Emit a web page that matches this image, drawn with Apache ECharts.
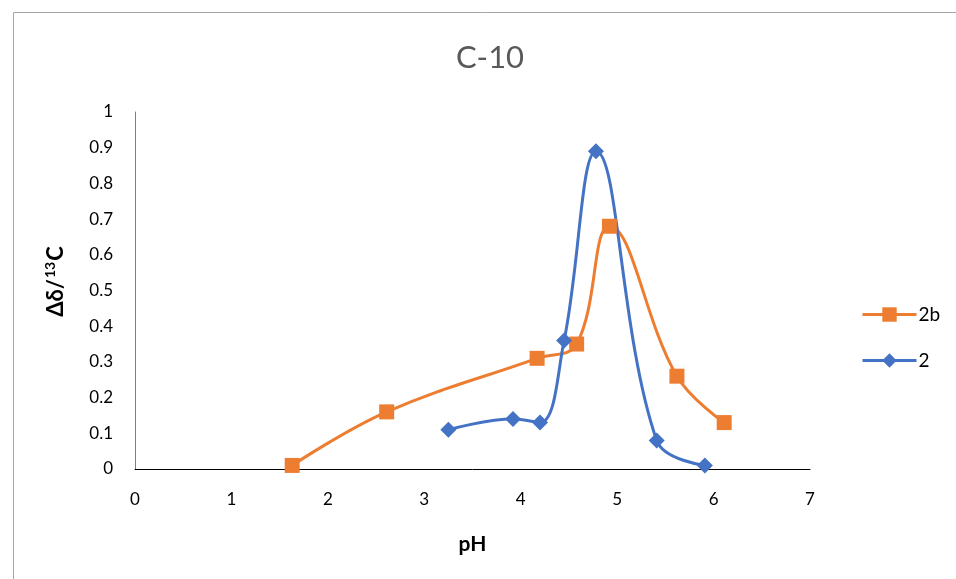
<!DOCTYPE html>
<html>
<head>
<meta charset="utf-8">
<script src="https://cdn.jsdelivr.net/npm/echarts@6/dist/echarts.min.js"></script>
<style>
  html, body { margin: 0; padding: 0; background: #fff; }
  #chart { width: 956px; height: 579px; }
</style>
</head>
<body>
<div id="chart"></div>
<script>
// pH vs chemical shift change for C-10
const pH_2b = [1.63, 2.61, 4.17, 4.58, 4.92, 5.62, 6.11];
const shift_2b = [0.01, 0.16, 0.31, 0.35, 0.68, 0.26, 0.13];
const pH_2 = [3.25, 3.92, 4.20, 4.45, 4.78, 5.41, 5.91];
const shift_2 = [0.11, 0.14, 0.13, 0.36, 0.89, 0.08, 0.01];
const xTicks = [0, 1, 2, 3, 4, 5, 6, 7];
const yTicks = [0, 0.1, 0.2, 0.3, 0.4, 0.5, 0.6, 0.7, 0.8, 0.9, 1];

const pairs = (xs, ys) => xs.map((x, i) => [x, ys[i]]);
const font = 'Lato, "Open Sans", "Noto Sans", sans-serif';

const chart = echarts.init(document.getElementById('chart'), null, { renderer: 'canvas' });
chart.setOption({
  animation: false,
  backgroundColor: '#fff',
  graphic: [{
    type: 'rect',
    shape: { x: 13.5, y: 12.5, width: 960, height: 600 },
    style: { fill: 'none', stroke: '#a6a6a6', lineWidth: 1 },
    silent: true
  }],
  title: {
    text: 'C-10',
    left: 485, top: 37,
    textAlign: 'center',
    textStyle: { color: '#595959', fontSize: 31, fontWeight: 'normal', fontFamily: font }
  },
  grid: { left: 135, right: 146, top: 112, bottom: 110, containLabel: false },
  legend: {
    orient: 'vertical',
    left: 856, top: 300,
    itemWidth: 54, itemHeight: 18, itemGap: 27,
    lineStyle: { width: 3 },
    textStyle: { fontSize: 19, color: '#000', fontFamily: font, padding: [0, 0, 0, -3] },
    data: ['2b', '2']
  },
  xAxis: {
    type: 'value',
    min: xTicks[0], max: xTicks[xTicks.length - 1], interval: 1,
    name: 'pH', nameLocation: 'middle', nameGap: 65,
    nameTextStyle: { fontSize: 21, fontWeight: 'bold', color: '#000', fontFamily: font },
    axisLine: { show: true, onZero: false, lineStyle: { color: '#000', width: 1 } },
    axisTick: { show: false },
    splitLine: { show: false },
    axisLabel: { fontSize: 17, color: '#000', margin: 22, fontFamily: font }
  },
  yAxis: {
    type: 'value',
    min: yTicks[0], max: yTicks[yTicks.length - 1], interval: 0.1,
    name: 'Δδ/{s|13}C', nameLocation: 'middle', nameGap: 66, nameRotate: 90,
    nameTextStyle: {
      fontSize: 22, fontWeight: 'bold', color: '#000', fontFamily: font,
      lineHeight: 26,
      padding: [0, 0, 0, 18],
      rich: {
        s: { fontSize: 14, fontWeight: 'bold', color: '#000', fontFamily: font, verticalAlign: 'top', lineHeight: 18, padding: [0, 1, 0, 1] }
      }
    },
    axisLine: { show: true, lineStyle: { color: '#7f7f7f', width: 1 } },
    axisTick: { show: false },
    splitLine: { show: false },
    axisLabel: {
      fontSize: 17, color: '#000', margin: 22, fontFamily: font,
      formatter: v => String(Math.round(v * 10) / 10)
    }
  },
  series: [
    {
      name: '2b', type: 'line', smooth: 0.4,
      data: pairs(pH_2b, shift_2b),
      symbol: 'rect', symbolSize: 15,
      itemStyle: { color: '#ED7D31' },
      lineStyle: { color: '#ED7D31', width: 3 }
    },
    {
      name: '2', type: 'line', smooth: 0.4,
      data: pairs(pH_2, shift_2),
      symbol: 'diamond', symbolSize: 16,
      itemStyle: { color: '#4472C4' },
      lineStyle: { color: '#4472C4', width: 3 }
    }
  ]
});
</script>
</body>
</html>
